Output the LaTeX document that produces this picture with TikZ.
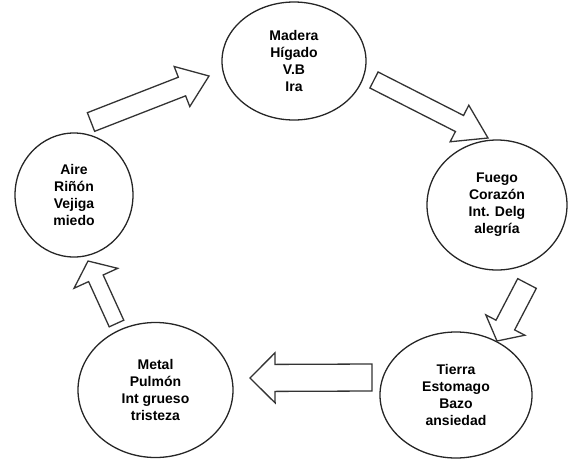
\documentclass[tikz,border=0pt]{standalone}
\usepackage{fontspec}
\setmainfont{Liberation Sans}
\usetikzlibrary{shapes.geometric,calc}
\tikzset{
  elem/.style={ellipse, draw=black!85, line width=1.3pt, inner sep=0pt, align=center,
    font=\bfseries\fontsize{14}{17}\selectfont},
  blk/.style={draw=black!80, line width=1.3pt, line join=miter},
}
% name, tail, tip, shaft half width, head half width, head length
\newcommand{\blockarrow}[6]{%
  \coordinate (#1hb) at ($(#3)!#6!(#2)$);
  \draw[blk] ($(#2)!#4!90:(#3)$) -- ($(#1hb)!#4!90:(#3)$) -- ($(#1hb)!#5!90:(#3)$)
    -- (#3) -- ($(#1hb)!#5!-90:(#3)$) -- ($(#1hb)!#4!-90:(#3)$) -- ($(#2)!#4!-90:(#3)$) -- cycle;}
\begin{document}
\begin{tikzpicture}[x=1pt,y=-1pt]
\useasboundingbox (0,0) rectangle (568,459);
\node[elem, minimum width=144pt, minimum height=118pt] (madera) at (294,61) {Madera\\Hígado\\V.B\\Ira};
\node[elem, minimum width=140pt, minimum height=130pt] (fuego) at (497,205) {Fuego\\Corazón\\Int. Delg\\alegría};
\node[elem, minimum width=152pt, minimum height=126pt] (tierra) at (456,395) {Tierra\\Estomago\\Bazo\\ansiedad};
\node[elem, minimum width=155pt, minimum height=135pt] (metal) at (155.5,390) {Metal\\Pulmón\\Int grueso\\tristeza};
\node[elem, minimum width=118pt, minimum height=124pt] (aire) at (74,195) {Aire\\Riñón\\Vejiga\\miedo};
\coordinate (a1t) at (91,122);   \coordinate (a1h) at (209,76);
\coordinate (a2t) at (374,80);   \coordinate (a2h) at (488,138);
\coordinate (a3t) at (527,283.5); \coordinate (a3h) at (497,341);
\coordinate (a4t) at (372,377.5); \coordinate (a4h) at (250,378);
\coordinate (a5t) at (116.5,323.5); \coordinate (a5h) at (88,261);
\blockarrow{a1}{a1t}{a1h}{10pt}{21.5pt}{29pt}
\blockarrow{a2}{a2t}{a2h}{9pt}{20.5pt}{32pt}
\blockarrow{a3}{a3t}{a3h}{10.5pt}{22pt}{18pt}
\blockarrow{a4}{a4t}{a4h}{13.5pt}{25pt}{25pt}
\blockarrow{a5}{a5t}{a5h}{8pt}{24pt}{19pt}
\end{tikzpicture}
\end{document}
